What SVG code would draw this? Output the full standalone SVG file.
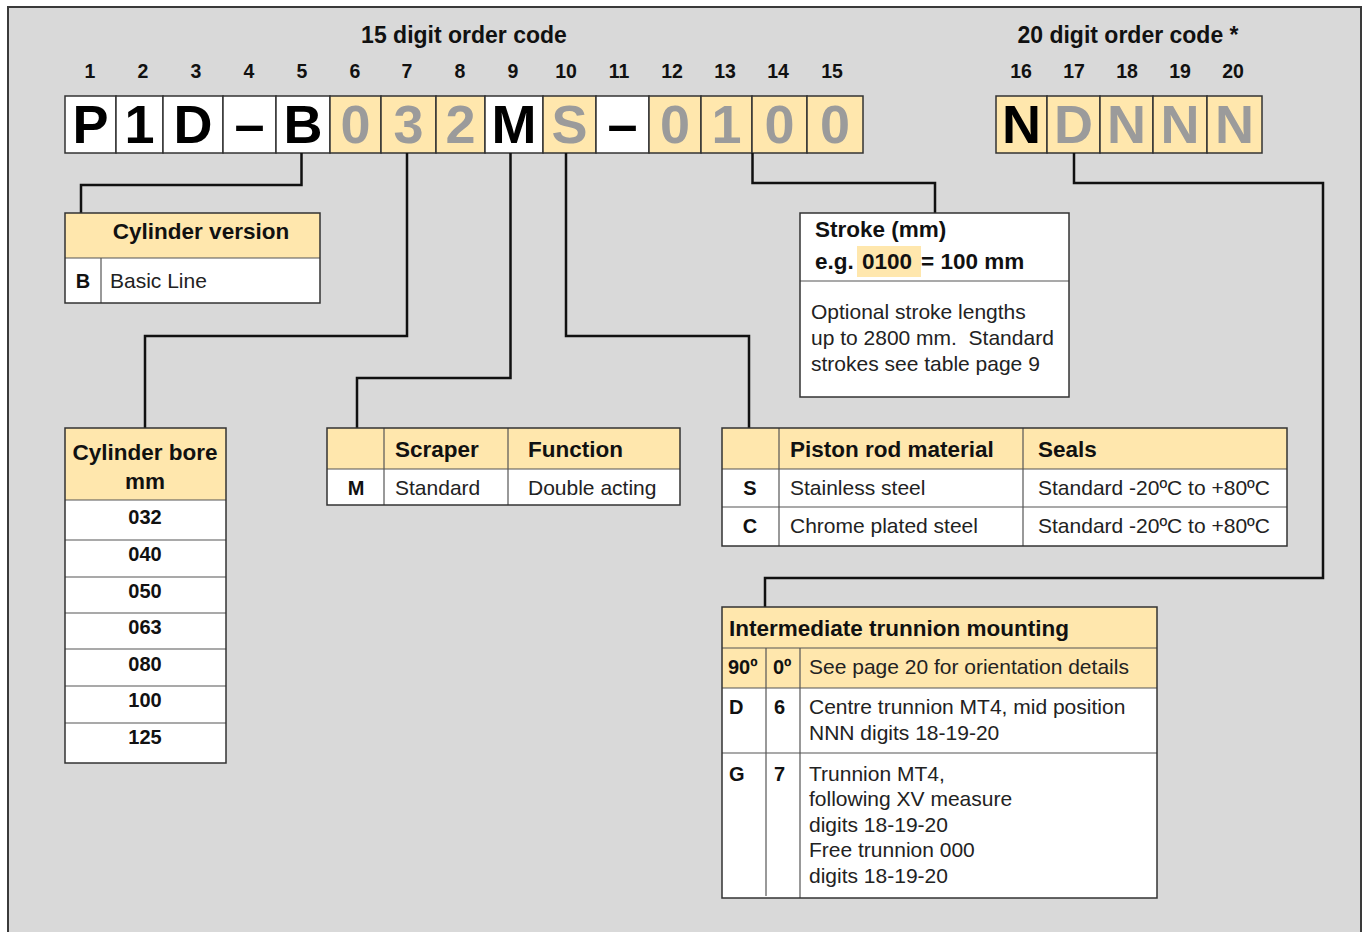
<svg xmlns="http://www.w3.org/2000/svg" width="1365" height="932" viewBox="0 0 1365 932">
<style>
.frame{fill:#d9d9d9;stroke:#3a3a3a;stroke-width:2}
.cw{fill:#ffffff;stroke:#333;stroke-width:1.5}
.cy{fill:#ffe7ad;stroke:#333;stroke-width:1.5}
.tb{fill:none;stroke:#333;stroke-width:1.5}
.ln{stroke:#555;stroke-width:1.2}
.big{font-family:"Liberation Sans",Arial,sans-serif;font-weight:bold;font-size:54px;text-anchor:middle}
.k{fill:#000}
.g{fill:#9b9b9b}
.num{font-family:"Liberation Sans",Arial,sans-serif;font-weight:bold;font-size:19.5px;text-anchor:middle;fill:#111}
.ttl{font-family:"Liberation Sans",Arial,sans-serif;font-weight:bold;font-size:23px;text-anchor:middle;fill:#111}
.h{font-family:"Liberation Sans",Arial,sans-serif;font-weight:bold;font-size:22.5px;fill:#111}
.b{font-family:"Liberation Sans",Arial,sans-serif;font-weight:bold;font-size:20px;fill:#111}
.bc{font-family:"Liberation Sans",Arial,sans-serif;font-weight:bold;font-size:20px;fill:#111;text-anchor:middle}
.t{font-family:"Liberation Sans",Arial,sans-serif;font-size:21px;fill:#222}
.conn{fill:none;stroke:#111;stroke-width:2.5}
</style>
<rect class="frame" x="8" y="7" width="1353" height="940"/>

<g id="titles">
<text class="ttl" x="464" y="43">15 digit order code</text>
<text class="ttl" x="1128" y="43">20 digit order code *</text>
</g>

<g id="digit-numbers">
<text class="num" x="90" y="78">1</text>
<text class="num" x="143" y="78">2</text>
<text class="num" x="196" y="78">3</text>
<text class="num" x="249" y="78">4</text>
<text class="num" x="302" y="78">5</text>
<text class="num" x="355" y="78">6</text>
<text class="num" x="407" y="78">7</text>
<text class="num" x="460" y="78">8</text>
<text class="num" x="513" y="78">9</text>
<text class="num" x="566" y="78">10</text>
<text class="num" x="619" y="78">11</text>
<text class="num" x="672" y="78">12</text>
<text class="num" x="725" y="78">13</text>
<text class="num" x="778" y="78">14</text>
<text class="num" x="832" y="78">15</text>
<text class="num" x="1021" y="78">16</text>
<text class="num" x="1074" y="78">17</text>
<text class="num" x="1127" y="78">18</text>
<text class="num" x="1180" y="78">19</text>
<text class="num" x="1233" y="78">20</text>
</g>

<g id="code15">
<rect class="cw" x="65" y="96" width="51" height="57"/>
<rect class="cw" x="116" y="96" width="47" height="57"/>
<rect class="cw" x="163" y="96" width="60" height="57"/>
<rect class="cw" x="223" y="96" width="53" height="57"/>
<rect class="cw" x="276" y="96" width="54" height="57"/>
<rect class="cy" x="330" y="96" width="51" height="57"/>
<rect class="cy" x="381" y="96" width="55" height="57"/>
<rect class="cy" x="436" y="96" width="49" height="57"/>
<rect class="cw" x="485" y="96" width="58" height="57"/>
<rect class="cy" x="543" y="96" width="53" height="57"/>
<rect class="cw" x="596" y="96" width="53" height="57"/>
<rect class="cy" x="649" y="96" width="52" height="57"/>
<rect class="cy" x="701" y="96" width="51" height="57"/>
<rect class="cy" x="752" y="96" width="55" height="57"/>
<rect class="cy" x="807" y="96" width="56" height="57"/>
<text class="big k" x="90.5" y="143">P</text>
<text class="big k" x="139.5" y="143">1</text>
<text class="big k" x="193" y="143">D</text>
<text class="big k" x="249.5" y="143">–</text>
<text class="big k" x="303" y="143">B</text>
<text class="big g" x="355.5" y="143">0</text>
<text class="big g" x="408.5" y="143">3</text>
<text class="big g" x="460.5" y="143">2</text>
<text class="big k" x="514" y="143">M</text>
<text class="big g" x="569.5" y="143">S</text>
<text class="big k" x="622.5" y="143">–</text>
<text class="big g" x="675" y="143">0</text>
<text class="big g" x="726.5" y="143">1</text>
<text class="big g" x="779.5" y="143">0</text>
<text class="big g" x="835" y="143">0</text>
</g>

<g id="code20">
<rect class="cy" x="996" y="96" width="51" height="57"/>
<rect class="cy" x="1047" y="96" width="53" height="57"/>
<rect class="cy" x="1100" y="96" width="53" height="57"/>
<rect class="cy" x="1153" y="96" width="54" height="57"/>
<rect class="cy" x="1207" y="96" width="55" height="57"/>
<text class="big k" x="1021.5" y="143">N</text>
<text class="big g" x="1073.5" y="143">D</text>
<text class="big g" x="1126.5" y="143">N</text>
<text class="big g" x="1180" y="143">N</text>
<text class="big g" x="1234.5" y="143">N</text>
</g>

<g id="connectors">
<polyline class="conn" points="301.5,153 301.5,185 81,185 81,213"/>
<polyline class="conn" points="407,153 407,336 145,336 145,428"/>
<polyline class="conn" points="510.5,153 510.5,378 357,378 357,428"/>
<polyline class="conn" points="566,153 566,336 749,336 749,428"/>
<polyline class="conn" points="752.5,153 752.5,183 935,183 935,213"/>
<polyline class="conn" points="1074,153 1074,183 1323,183 1323,578 765,578 765,607"/>
</g>

<g id="cylinder-version">
<rect x="65" y="213" width="255" height="45" fill="#ffe7ad"/>
<rect x="65" y="258" width="255" height="45" fill="#fff"/>
<line class="ln" x1="65" y1="258" x2="320" y2="258"/>
<line class="ln" x1="101" y1="258" x2="101" y2="303"/>
<rect class="tb" x="65" y="213" width="255" height="90"/>
<text class="h" x="201" y="239" text-anchor="middle">Cylinder version</text>
<text class="bc" x="83" y="288">B</text>
<text class="t" x="110" y="288">Basic Line</text>
</g>

<g id="stroke">
<rect x="800" y="213" width="269" height="184" fill="#fff"/>
<line class="ln" x1="800" y1="281" x2="1069" y2="281"/>
<rect class="tb" x="800" y="213" width="269" height="184"/>
<rect x="857" y="246" width="64" height="31" fill="#ffe7ad"/>
<text class="h" x="815" y="237">Stroke (mm)</text>
<text class="h" x="815" y="269">e.g. <tspan x="862">0100</tspan><tspan x="921">= 100 mm</tspan></text>
<text class="t" x="811" y="319">Optional stroke lengths</text>
<text class="t" x="811" y="345" xml:space="preserve">up to 2800 mm.  Standard</text>
<text class="t" x="811" y="371">strokes see table page 9</text>
</g>

<g id="cylinder-bore">
<rect x="65" y="428" width="161" height="72" fill="#ffe7ad"/>
<rect x="65" y="500" width="161" height="263" fill="#fff"/>
<line class="ln" x1="65" y1="500" x2="226" y2="500"/>
<line class="ln" x1="65" y1="540" x2="226" y2="540"/>
<line class="ln" x1="65" y1="577" x2="226" y2="577"/>
<line class="ln" x1="65" y1="613" x2="226" y2="613"/>
<line class="ln" x1="65" y1="649" x2="226" y2="649"/>
<line class="ln" x1="65" y1="686" x2="226" y2="686"/>
<line class="ln" x1="65" y1="723" x2="226" y2="723"/>
<rect class="tb" x="65" y="428" width="161" height="335"/>
<text class="h" x="145" y="460" text-anchor="middle">Cylinder bore</text>
<text class="h" x="145" y="489" text-anchor="middle">mm</text>
<text class="bc" x="145" y="524">032</text>
<text class="bc" x="145" y="561">040</text>
<text class="bc" x="145" y="598">050</text>
<text class="bc" x="145" y="634">063</text>
<text class="bc" x="145" y="671">080</text>
<text class="bc" x="145" y="707">100</text>
<text class="bc" x="145" y="744">125</text>
</g>

<g id="scraper">
<rect x="327" y="428" width="353" height="41" fill="#ffe7ad"/>
<rect x="327" y="469" width="353" height="36" fill="#fff"/>
<line class="ln" x1="327" y1="469" x2="680" y2="469"/>
<line class="ln" x1="384" y1="428" x2="384" y2="505"/>
<line class="ln" x1="508" y1="428" x2="508" y2="505"/>
<rect class="tb" x="327" y="428" width="353" height="77"/>
<text class="h" x="395" y="457">Scraper</text>
<text class="h" x="528" y="457">Function</text>
<text class="bc" x="356" y="495">M</text>
<text class="t" x="395" y="495">Standard</text>
<text class="t" x="528" y="495">Double acting</text>
</g>

<g id="piston-rod">
<rect x="722" y="428" width="565" height="41" fill="#ffe7ad"/>
<rect x="722" y="469" width="565" height="77" fill="#fff"/>
<line class="ln" x1="722" y1="469" x2="1287" y2="469"/>
<line class="ln" x1="722" y1="507" x2="1287" y2="507"/>
<line class="ln" x1="779" y1="428" x2="779" y2="546"/>
<line class="ln" x1="1023" y1="428" x2="1023" y2="546"/>
<rect class="tb" x="722" y="428" width="565" height="118"/>
<text class="h" x="790" y="457">Piston rod material</text>
<text class="h" x="1038" y="457">Seals</text>
<text class="bc" x="750" y="495">S</text>
<text class="t" x="790" y="495">Stainless steel</text>
<text class="t" x="1038" y="495">Standard -20ºC to +80ºC</text>
<text class="bc" x="750" y="533">C</text>
<text class="t" x="790" y="533">Chrome plated steel</text>
<text class="t" x="1038" y="533">Standard -20ºC to +80ºC</text>
</g>

<g id="trunnion">
<rect x="722" y="607" width="435" height="81" fill="#ffe7ad"/>
<rect x="722" y="688" width="435" height="210" fill="#fff"/>
<line class="ln" x1="722" y1="648" x2="1157" y2="648"/>
<line class="ln" x1="722" y1="688" x2="1157" y2="688"/>
<line class="ln" x1="722" y1="753" x2="1157" y2="753"/>
<line class="ln" x1="766" y1="648" x2="766" y2="896"/>
<line class="ln" x1="800" y1="648" x2="800" y2="898"/>
<rect class="tb" x="722" y="607" width="435" height="291"/>
<text class="h" x="729" y="636">Intermediate trunnion mounting</text>
<text class="b" x="728" y="674">90º</text>
<text class="b" x="773" y="674">0º</text>
<text class="t" x="809" y="674">See page 20 for orientation details</text>
<text class="b" x="729" y="714">D</text>
<text class="b" x="774" y="714">6</text>
<text class="t" x="809" y="714">Centre trunnion MT4, mid position</text>
<text class="t" x="809" y="740">NNN digits 18-19-20</text>
<text class="b" x="729" y="781">G</text>
<text class="b" x="774" y="781">7</text>
<text class="t" x="809" y="781">Trunnion MT4,</text>
<text class="t" x="809" y="806">following XV measure</text>
<text class="t" x="809" y="832">digits 18-19-20</text>
<text class="t" x="809" y="857">Free trunnion 000</text>
<text class="t" x="809" y="883">digits 18-19-20</text>
</g>
</svg>
